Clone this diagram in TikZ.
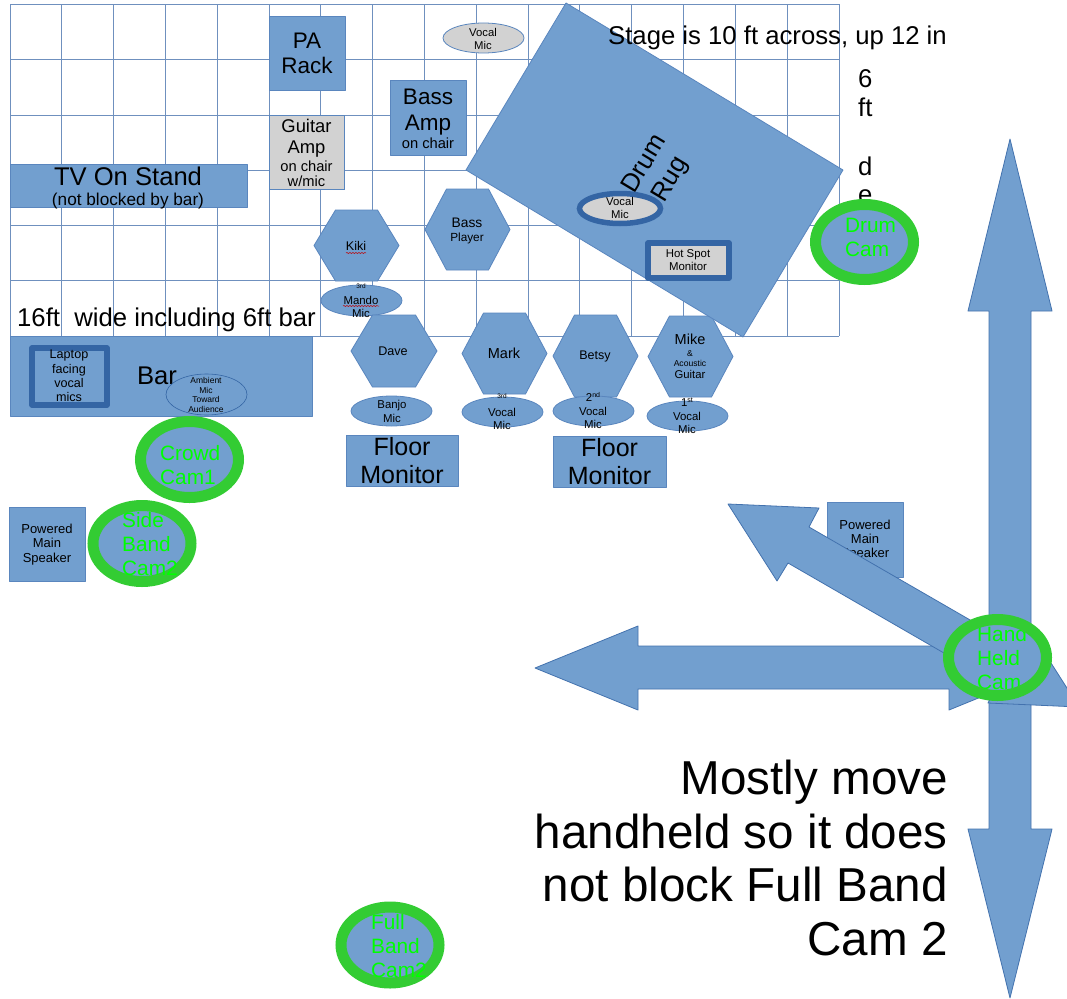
\documentclass[tikz,border=0pt]{standalone}
\usepackage{fontspec}
\setmainfont{Liberation Sans}
\usetikzlibrary{decorations.pathmorphing}
\definecolor{fillblue}{HTML}{729FCF}
\definecolor{edgeblue}{HTML}{3465A4}
\definecolor{softedge}{HTML}{5A86BE}
\definecolor{arrowedge}{HTML}{4372AE}
\definecolor{gridblue}{HTML}{6F90BE}
\definecolor{softgray}{HTML}{D2D2D2}
\definecolor{ringgreen}{HTML}{33CC33}
\definecolor{camgreen}{HTML}{00FF00}
\newcommand{\fs}[2]{\fontsize{#1}{#2}\selectfont}
\tikzset{
  gridline/.style={draw=gridblue,line width=1pt},
  shapeblue/.style={fill=fillblue,draw=softedge,line width=0.8pt,line join=round},
  arrowblue/.style={fill=fillblue,draw=arrowedge,line width=0.8pt,line join=round},
  shapegray/.style={fill=softgray,draw=softedge,line width=0.8pt},
  thickblue/.style={draw=edgeblue,line width=5.5pt},
  ring/.style={draw=ringgreen,line width=11pt},
  lab/.style={inner sep=0pt,align=center,text=black},
  camlab/.style={inner sep=0pt,align=left,anchor=west,text=camgreen,font=\fs{20.8}{24}},
  wavy/.style={draw=red!75!black,line width=0.5pt,decorate,decoration={snake,amplitude=0.5pt,segment length=3pt}}
}
\newcommand{\hexa}[5][21.5]{%
  \path[shapeblue] (#2-#4/2,#3) -- (#2-#4/2+#1,#3-#5/2) -- (#2+#4/2-#1,#3-#5/2) -- (#2+#4/2,#3) -- (#2+#4/2-#1,#3+#5/2) -- (#2-#4/2+#1,#3+#5/2) -- cycle;}
\begin{document}
\begin{tikzpicture}[x=1pt,y=-1pt]
\useasboundingbox (0,0) rectangle (1067,998);
\fill[white] (0,0) rectangle (1067,998);
% grid
\foreach \i in {0,...,16} \draw[gridline] ({10+\i*51.8125},4.5) -- ({10+\i*51.8125},336);
\foreach \j in {0,...,6} \draw[gridline] (10,{4.5+\j*55.25}) -- (839,{4.5+\j*55.25});
% amps and TV
\path[shapeblue] (269,16) rectangle (345,90);
\node[lab,font=\fs{22.5}{25}] (pa) at (307,53) {PA\\Rack};
\path[shapeblue] (390,80) rectangle (466,155);
\node[lab,font=\fs{22.5}{26}] (bassamp) at (428,118.5) {Bass\\Amp\\[-8pt]\fs{14.7}{17}on chair};
\path[shapegray] (269,115) rectangle (344,189);
\node[lab,font=\fs{18.4}{21}] (gamp) at (306.5,152.5) {Guitar\\Amp\\[-3pt]\fs{14.7}{16}on chair\\[-6pt]\fs{14.7}{16}w/mic};
\path[shapeblue] (10,164) rectangle (247,207);
\node[lab,font=\fs{25.6}{25}] (tv) at (128,188) {TV On Stand\\[-5pt]\fs{17.2}{17}(not blocked by bar)};
% top vocal mic
\path[shapegray] (483.5,38) ellipse (40.5 and 15);
\node[lab,font=\fs{11.3}{13}] (vm1) at (483,38.5) {Vocal\\Mic};
% players
\hexa{356.5}{245.5}{85}{71}
\node[lab,font=\fs{12.6}{14}] (kiki) at (356,246) {Kiki};
\draw[wavy] (346,253) -- (366,253);
\hexa{467.5}{229.5}{85}{81}
\node[lab,font=\fs{13.8}{14}] (bassp) at (467,230.5) {Bass\\\fs{11.8}{14}Player};
\path[shapeblue] (361.5,300.5) ellipse (40.5 and 15.5);
\node[lab,font=\fs{6.5}{7}] (m3) at (361,286) {3rd};
\node[lab,font=\fs{11.4}{12.5}] (mando) at (361,307) {Mando\\Mic};
\draw[wavy] (343,306) -- (379,306);
\hexa{394}{351}{86}{72}
\node[lab,font=\fs{12.6}{14}] (dave) at (393,351) {Dave};
\hexa{504.5}{353.5}{85}{81}
\node[lab,font=\fs{14.5}{16}] (mark) at (504,353) {Mark};
\hexa{595.5}{356}{85}{82}
\node[lab,font=\fs{12.5}{14}] (betsy) at (595,356) {Betsy};
\hexa{690.5}{356.5}{85}{81}
\node[lab,font=\fs{14.5}{14}] (mike) at (690,356.5) {Mike\\[-2.5pt]\fs{8.6}{10}\&\\[-4pt]\fs{8.6}{10}Acoustic\\[-1.5pt]\fs{11.3}{12}Guitar};
% drum rug
\path[shapeblue] (566,3) -- (843,170) -- (743,337) -- (466,170) -- cycle;
\node[lab,font=\fs{25.6}{30},rotate=59] (rug) at (658,172) {Drum\\Rug};
\path[shapegray,draw=none] (620,208.5) ellipse (40.5 and 15);
\draw[thickblue] (620,208.5) ellipse (40.5 and 15);
\node[lab,font=\fs{11.3}{13}] (vm2) at (620,207.5) {Vocal\\Mic};
\path[shapegray,draw=none] (648,243) rectangle (729,278);
\draw[thickblue,line join=round] (648,243) rectangle (729,278);
\node[lab,font=\fs{11.4}{13}] (hotspot) at (688,260) {Hot Spot\\Monitor};
% mic ellipses
\path[shapeblue] (391.5,411) ellipse (40.5 and 15);
\node[lab,font=\fs{11.4}{13.3}] (banjo) at (392,411.5) {Banjo\\Mic};
\path[shapeblue] (502.5,412) ellipse (40.5 and 15);
\node[lab,font=\fs{6.5}{7}] (mk3) at (502,396.5) {3rd};
\node[lab,font=\fs{11.4}{13}] (mkv) at (502,418.5) {Vocal\\Mic};
\path[shapeblue] (593.5,411) ellipse (40.5 and 15);
\node[lab,font=\fs{11.4}{12}] (bt2) at (593,397) {2\raisebox{3.5pt}{\fs{7}{8}nd}};
\node[lab,font=\fs{11.4}{13}] (btv) at (593,417.5) {Vocal\\Mic};
\path[shapeblue] (687.5,416) ellipse (40.5 and 15);
\node[lab,font=\fs{11.4}{12}] (mk1) at (687,402) {1\raisebox{3.5pt}{\fs{7}{8}st}};
\node[lab,font=\fs{11.4}{13}] (mkv2) at (687,422.5) {Vocal\\Mic};
% floor monitors
\path[shapeblue] (346,435) rectangle (458,486);
\node[lab,font=\fs{25}{28.5}] (fm1) at (402,460.5) {Floor\\Monitor};
\path[shapeblue] (553,436) rectangle (666,487);
\node[lab,font=\fs{25}{28.5}] (fm2) at (609.5,461.5) {Floor\\Monitor};
% bar
\path[shapeblue] (10,336) rectangle (312,416);
\draw[thickblue,line join=round] (32,348) rectangle (107,405);
\node[lab,font=\fs{12.6}{14.4}] (laptop) at (69,376) {Laptop\\facing\\vocal\\mics};
\node[lab,font=\fs{25.6}{28}] (bar) at (157,375.5) {Bar};
\draw[edgeblue,line width=0.6pt] (206.5,394.5) ellipse (40.5 and 20.5);
\node[lab,font=\fs{8.5}{9.7}] (ambient) at (206,395) {Ambient\\Mic\\Toward\\Audience};
% speakers
\path[shapeblue] (9,507) rectangle (85,581);
\node[lab,font=\fs{13}{14.3}] (spk1) at (47,544.5) {Powered\\Main\\Speaker};
\path[shapeblue] (827,502) rectangle (903,577);
\node[lab,font=\fs{13}{14.3}] (spk2) at (865,540) {Powered\\Main\\Speaker};
% free texts
\node[lab,font=\fs{25.7}{28},anchor=west] (stage) at (608,37.5) {Stage is 10 ft across, up 12 in};
\node[lab,font=\fs{25.7}{28},anchor=west] (wide) at (17,320) {16ft\ \ wide including 6ft bar};
\node[lab,font=\fs{25.7}{29},anchor=west] (six) at (858,79) {6};
\node[lab,font=\fs{25.7}{29},anchor=west] (ft) at (858,107) {ft};
\node[lab,font=\fs{25.7}{29},anchor=west] (d) at (858,166.5) {d};
\node[lab,font=\fs{25.7}{29},anchor=west] (e) at (858,197) {e};
% cameras
\path[shapeblue,draw=none] (864.5,242) ellipse (49 and 37.5);
\draw[ring] (864.5,242) ellipse (49 and 37.5);
\node[camlab] (drumcam) at (845,237) {Drum\\Cam};
\path[shapeblue,draw=none] (189.5,459.5) ellipse (49 and 38);
\draw[ring] (189.5,459.5) ellipse (49 and 38);
\node[camlab] (crowd) at (160,465) {Crowd\\Cam1};
\path[shapeblue,draw=none] (142,543.5) ellipse (49 and 38);
\draw[ring] (142,543.5) ellipse (49 and 38);
\node[camlab] (side) at (122,544) {Side\\Band\\Cam2};
% arrows
\path[arrowblue] (1010,139) -- (1052,311) -- (1031,311) -- (1031,829) -- (1052,829) -- (1010,998) -- (968,829) -- (989,829) -- (989,311) -- (968,311) -- cycle;
\path[arrowblue] (535,668) -- (638,626) -- (638,646) -- (949,646) -- (949,626) -- (1052,668) -- (949,710) -- (949,689) -- (638,689) -- (638,710) -- cycle;
\path[arrowblue] (728,504) -- (819,508) -- (809,527) -- (1019.5,648.5) -- (1030,630) -- (1079,707) -- (988,703) -- (998.5,684.5) -- (788,563) -- (777,581) -- cycle;
% handheld camera
\path[shapeblue,draw=none] (997.5,657.5) ellipse (49 and 38);
\node[camlab] (hand) at (977,658) {Hand\\Held\\Cam};
\draw[ring] (997.5,657.5) ellipse (49 and 38);
% full band camera
\path[shapeblue,draw=none] (390,945) ellipse (49 and 38);
\draw[ring] (390,945) ellipse (49 and 38);
\node[camlab] (full) at (371,946) {Full\\Band\\Cam2};
% note
\node[lab,font=\fs{47.6}{53.7},align=right,anchor=east,text=black] (note) at (948,858) {Mostly move\\handheld so it does\\not block Full Band\\Cam 2};
\end{tikzpicture}
\end{document}
